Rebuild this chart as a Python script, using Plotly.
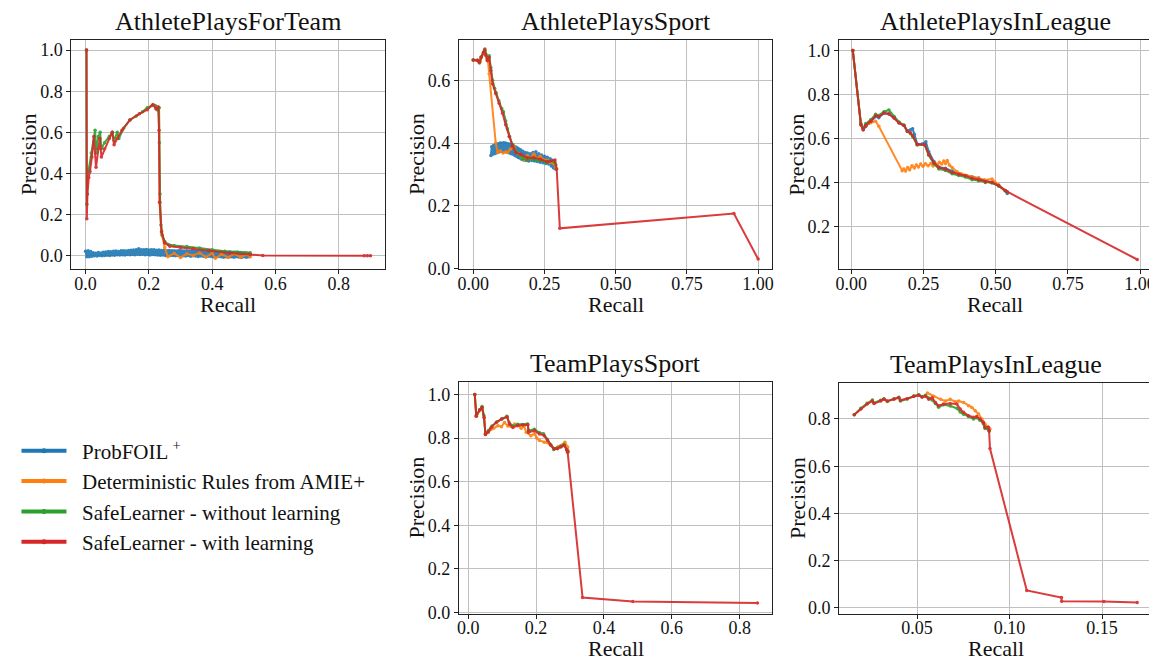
import plotly.graph_objects as go

# ---------------- data ----------------
SERIES = ["ProbFOIL\u2009<sup>+</sup>", "Deterministic Rules from AMIE+",
          "SafeLearner - without learning", "SafeLearner - with learning"]
COLORS = ["#1f77b4", "#ff7f0e", "#2ca02c", "#d62728"]
TITLES = ["AthletePlaysForTeam", "AthletePlaysSport", "AthletePlaysInLeague",
          "TeamPlaysSport", "TeamPlaysInLeague"]
X_LABEL = "Recall"
Y_LABEL = "Precision"

# AthletePlaysForTeam - ProbFOIL+ (dense noisy band near zero)
apft_blue_x = [0.000,0.004,0.008,0.012,0.016,0.020,0.024,0.028,0.032,0.036,
               0.040,0.044,0.048,0.052,0.056,0.060,0.064,0.068,0.072,0.076,
               0.080,0.084,0.088,0.092,0.096,0.100,0.104,0.108,0.112,0.116,
               0.120,0.124,0.128,0.132,0.136,0.140,0.144,0.148,0.152,0.156,
               0.160,0.164,0.168,0.172,0.176,0.180,0.184,0.188,0.192,0.196,
               0.200,0.204,0.208,0.212,0.216,0.220,0.224,0.228,0.232,0.236,
               0.240,0.244,0.248,0.252,0.256,0.260,0.264,0.268,0.272,0.276,
               0.280,0.284,0.288,0.292,0.296,0.300,0.304,0.308,0.312,0.316,
               0.320,0.324,0.328,0.332,0.336,0.340,0.344,0.348,0.352,0.356,
               0.360,0.364,0.368,0.372,0.376,0.380,0.384,0.388,0.392,0.396,
               0.400,0.404,0.408,0.412,0.416,0.420,0.424,0.428,0.432,0.436,
               0.440,0.444,0.448,0.452,0.456,0.460,0.464,0.468,0.472,0.476,
               0.480,0.484,0.488,0.492,0.496,0.500,0.504,0.508,0.512,0.516,
               0.520]
apft_blue_y = [0.022,-0.005,0.024,-0.004,0.021,
               -0.002,0.015,0.000,0.013,-0.001,0.016,0.001,0.014,0.000,0.017,
               0.002,0.019,0.003,0.021,0.002,0.020,0.004,0.022,0.003,0.023,
               0.005,0.021,0.004,0.024,0.005,0.025,0.004,0.023,0.006,0.026,
               0.005,0.027,0.006,
               0.028,0.005,0.029,0.007,0.034,0.006,0.030,0.008,0.029,0.005,
               0.031,0.006,0.028,0.004,0.030,0.006,0.029,0.005,0.027,0.004,
               0.028,0.003,0.026,0.004,0.027,
               0.002,0.025,0.003,0.026,0.001,0.024,0.002,0.025,0.000,0.023,
               0.001,0.026,0.002,0.024,0.000,0.023,-0.001,0.025,0.001,0.022,
               -0.002,0.024,0.000,0.023,-0.001,0.021,-0.003,0.022,-0.001,0.023,
               -0.002,0.020,-0.004,0.022,-0.002,0.021,-0.003,
               0.020,-0.004,0.021,-0.006,0.019,-0.003,0.020,-0.005,0.018,-0.007,
               0.019,-0.004,0.017,-0.006,0.018,-0.005,0.016,-0.007,0.017,-0.005,
               0.015,-0.006,0.016,-0.008,0.014,-0.005,0.015,-0.007,0.012,-0.004,
               0.006]
assert len(apft_blue_x) == len(apft_blue_y)
apft_blue = list(zip(apft_blue_x, apft_blue_y))

apft_orange = [(0.232,0.720),(0.234,0.260),(0.240,0.110),(0.250,0.040),(0.260,-0.004),(0.280,0.012),
               (0.300,-0.008),(0.320,0.010),(0.340,0.002),(0.360,0.014),(0.380,-0.006),(0.400,0.012),
               (0.410,-0.012),(0.430,0.008),(0.450,-0.008),(0.470,0.010),(0.490,-0.006),(0.510,0.006),
               (0.520,-0.004)]
apft_green = [(0.003,1.000),(0.004,0.250),(0.006,0.400),(0.010,0.420),(0.018,0.500),(0.030,0.610),
              (0.034,0.500),(0.040,0.580),(0.046,0.600),(0.050,0.520),(0.060,0.550),(0.075,0.580),
              (0.085,0.600),(0.090,0.560),(0.100,0.600),(0.105,0.570),(0.120,0.620),(0.140,0.660),
              (0.160,0.680),(0.180,0.700),(0.195,0.720),(0.210,0.730),(0.220,0.730),(0.226,0.710),
              (0.232,0.720),(0.233,0.550),(0.235,0.300),(0.238,0.150),(0.242,0.100),(0.250,0.070),
              (0.262,0.055),(0.280,0.050),(0.320,0.045),(0.360,0.038),(0.400,0.030),(0.440,0.022),
              (0.480,0.018),(0.520,0.015)]
apft_red = [(0.003,1.000),(0.004,0.180),(0.006,0.300),(0.010,0.380),(0.014,0.410),(0.020,0.480),
            (0.026,0.580),(0.033,0.430),(0.040,0.520),(0.045,0.570),(0.050,0.480),(0.060,0.520),
            (0.075,0.570),(0.084,0.600),(0.090,0.540),(0.100,0.570),(0.115,0.610),(0.140,0.660),
            (0.170,0.690),(0.195,0.710),(0.213,0.735),(0.222,0.715),(0.229,0.725),(0.232,0.610),
            (0.234,0.260),(0.240,0.118),(0.250,0.062),(0.266,0.046),(0.300,0.040),(0.340,0.035),
            (0.390,0.026),(0.455,0.014),(0.520,0.006),(0.560,0.002),(0.880,0.000),(0.890,0.000),
            (0.900,0.000)]

# AthletePlaysSport
aps_blue = [(0.062,0.360),(0.065,0.388),(0.068,0.364),(0.071,0.392),(0.074,0.366),(0.077,0.394),
            (0.080,0.368),(0.083,0.396),(0.086,0.370),(0.089,0.398),(0.092,0.372),(0.095,0.400),
            (0.098,0.374),(0.101,0.399),(0.104,0.373),(0.107,0.401),(0.110,0.375),(0.113,0.400),
            (0.116,0.372),(0.119,0.398),(0.122,0.370),(0.125,0.397),(0.128,0.368),(0.131,0.396),
            (0.134,0.366),(0.137,0.393),(0.140,0.364),(0.143,0.390),(0.146,0.360),(0.149,0.387),
            (0.152,0.358),(0.155,0.384),(0.158,0.354),(0.161,0.381),(0.164,0.352),(0.167,0.378),
            (0.170,0.348),(0.174,0.374),(0.178,0.346),(0.182,0.370),(0.186,0.344),(0.190,0.368),
            (0.195,0.343),(0.200,0.366),(0.205,0.344),(0.210,0.370),(0.215,0.343),(0.220,0.372),
            (0.225,0.341),(0.230,0.366),(0.235,0.339),(0.240,0.362),(0.245,0.337),(0.250,0.358),
            (0.255,0.335),(0.260,0.355),(0.265,0.333),(0.270,0.350),(0.274,0.327),(0.278,0.345),
            (0.282,0.320),(0.286,0.338),(0.290,0.316)]
aps_orange = [(0.000,0.665),(0.015,0.663),(0.025,0.660),(0.035,0.685),(0.042,0.695),(0.048,0.665),
              (0.052,0.660),(0.056,0.621),(0.079,0.400),(0.086,0.370),(0.095,0.375),(0.105,0.368),
              (0.115,0.372),(0.120,0.370),(0.130,0.380),(0.143,0.390),(0.150,0.372),(0.160,0.365),
              (0.170,0.355),(0.178,0.346),(0.190,0.360),(0.200,0.350),(0.213,0.365),(0.225,0.348),
              (0.235,0.358),(0.248,0.346),(0.260,0.345),(0.270,0.338),(0.284,0.333),(0.290,0.320)]
aps_green = [(0.000,0.665),(0.015,0.665),(0.022,0.655),(0.028,0.675),(0.036,0.690),(0.041,0.700),
             (0.045,0.682),(0.050,0.670),(0.056,0.678),(0.062,0.640),(0.068,0.600),(0.075,0.575),
             (0.080,0.560),(0.090,0.535),(0.100,0.510),(0.106,0.500),(0.114,0.470),(0.120,0.445),
             (0.128,0.420),(0.138,0.395),(0.150,0.372),(0.165,0.360),(0.175,0.350),(0.190,0.346),
             (0.205,0.350),(0.220,0.346),(0.237,0.345),(0.255,0.338),(0.270,0.342),(0.284,0.340),
             (0.290,0.330)]
aps_red = [(0.000,0.665),(0.015,0.663),(0.021,0.658),(0.027,0.673),(0.036,0.689),(0.040,0.697),
           (0.044,0.679),(0.050,0.663),(0.056,0.673),(0.062,0.631),(0.068,0.589),(0.079,0.558),
           (0.091,0.527),(0.103,0.495),(0.114,0.458),(0.126,0.421),(0.138,0.390),(0.150,0.369),
           (0.167,0.364),(0.190,0.353),(0.213,0.353),(0.237,0.348),(0.260,0.340),(0.287,0.346),
           (0.293,0.317),(0.304,0.128),(0.915,0.175),(1.000,0.030)]

# AthletePlaysInLeague
apil_blue = [(0.005,1.000),(0.033,0.663),(0.041,0.640),(0.050,0.655),(0.060,0.670),(0.070,0.680),
             (0.084,0.700),(0.095,0.695),(0.113,0.715),(0.130,0.712),(0.148,0.695),(0.165,0.672),
             (0.182,0.660),(0.194,0.635),(0.205,0.640),(0.212,0.645),(0.218,0.620),(0.228,0.575),
             (0.245,0.575),(0.258,0.585),(0.268,0.540),(0.286,0.495),(0.303,0.470),(0.326,0.465),
             (0.349,0.452),(0.372,0.440),(0.395,0.432),(0.418,0.425),(0.441,0.420),(0.464,0.405),
             (0.487,0.400),(0.510,0.385),(0.533,0.362),(0.540,0.350)]
apil_orange = [(0.005,1.000),(0.033,0.663),(0.041,0.645),(0.050,0.660),(0.067,0.672),(0.084,0.678),
               (0.095,0.656),(0.176,0.454),(0.182,0.462),(0.188,0.452),(0.195,0.468),(0.202,0.458),
               (0.210,0.476),(0.218,0.466),(0.225,0.480),(0.232,0.470),(0.240,0.484),(0.248,0.474),
               (0.257,0.485),(0.266,0.476),(0.275,0.486),(0.283,0.475),(0.290,0.488),(0.298,0.480),
               (0.305,0.492),(0.313,0.484),(0.320,0.498),(0.326,0.486),(0.332,0.500),(0.340,0.478),
               (0.349,0.468),(0.365,0.450),(0.380,0.440),(0.400,0.432),(0.420,0.425),(0.440,0.420),
               (0.460,0.412),(0.487,0.416),(0.510,0.390),(0.533,0.364)]
apil_green = [(0.005,1.000),(0.033,0.668),(0.041,0.648),(0.050,0.668),(0.067,0.685),(0.084,0.710),
              (0.095,0.705),(0.113,0.722),(0.130,0.730),(0.148,0.700),(0.165,0.675),(0.182,0.660),
              (0.194,0.632),(0.205,0.622),(0.213,0.608),(0.228,0.570),(0.254,0.570),(0.268,0.524),
              (0.286,0.485),(0.303,0.462),(0.326,0.455),(0.349,0.440),(0.372,0.432),(0.395,0.425),
              (0.418,0.413),(0.441,0.408),(0.464,0.400),(0.487,0.398),(0.510,0.384),(0.533,0.362),
              (0.540,0.356)]
apil_red = [(0.005,1.000),(0.033,0.663),(0.041,0.640),(0.050,0.660),(0.067,0.678),(0.084,0.704),
            (0.095,0.700),(0.113,0.716),(0.130,0.713),(0.148,0.693),(0.165,0.671),(0.182,0.659),
            (0.194,0.633),(0.205,0.626),(0.213,0.611),(0.228,0.573),(0.254,0.573),(0.268,0.528),
            (0.286,0.490),(0.303,0.468),(0.326,0.461),(0.349,0.446),(0.372,0.438),(0.395,0.431),
            (0.418,0.419),(0.441,0.413),(0.464,0.404),(0.487,0.401),(0.510,0.386),(0.533,0.364),
            (0.540,0.358),(0.990,0.050)]

# TeamPlaysSport
tps_orange = [(0.0195,1.000),(0.024,0.900),(0.034,0.929),(0.041,0.940),(0.047,0.895),(0.051,0.816),
              (0.060,0.830),(0.075,0.845),(0.088,0.857),(0.098,0.852),(0.107,0.872),(0.117,0.855),
              (0.127,0.853),(0.137,0.865),(0.146,0.864),(0.156,0.845),(0.165,0.855),(0.171,0.827),
              (0.185,0.811),(0.195,0.820),(0.202,0.800),(0.210,0.789),(0.224,0.781),(0.239,0.774),
              (0.254,0.751),(0.265,0.760),(0.273,0.766),(0.285,0.781),(0.293,0.759),(0.295,0.740)]
tps_green = [(0.0195,1.000),(0.024,0.905),(0.034,0.930),(0.041,0.945),(0.046,0.905),(0.051,0.820),
             (0.060,0.835),(0.070,0.855),(0.085,0.875),(0.100,0.890),(0.114,0.900),(0.121,0.870),
             (0.132,0.855),(0.146,0.862),(0.160,0.862),(0.175,0.865),(0.178,0.835),(0.195,0.840),
             (0.210,0.825),(0.222,0.820),(0.233,0.795),(0.243,0.770),(0.252,0.748),(0.262,0.755),
             (0.274,0.762),(0.282,0.770),(0.290,0.748),(0.293,0.735)]
tps_red = [(0.0195,1.000),(0.024,0.900),(0.034,0.929),(0.041,0.940),(0.047,0.895),(0.051,0.816),
           (0.059,0.827),(0.068,0.849),(0.083,0.872),(0.098,0.887),(0.115,0.897),(0.122,0.864),
           (0.132,0.849),(0.146,0.857),(0.161,0.860),(0.176,0.861),(0.178,0.827),(0.195,0.834),
           (0.210,0.819),(0.224,0.811),(0.234,0.789),(0.244,0.766),(0.254,0.751),(0.263,0.751),
           (0.273,0.759),(0.283,0.766),(0.291,0.744),(0.293,0.736),(0.337,0.068),(0.485,0.050),
           (0.852,0.043)]

# TeamPlaysInLeague
tpil_orange = [(0.0556,0.910),(0.0590,0.896),(0.0627,0.883),(0.0653,0.876),(0.0679,0.883),
               (0.0707,0.873),(0.0725,0.876),(0.0751,0.870),(0.0778,0.856),(0.0796,0.849),
               (0.0814,0.835),(0.0832,0.821),(0.0850,0.800),(0.0867,0.779),(0.0885,0.765),
               (0.0894,0.758)]
tpil_green = [(0.0160,0.818),(0.0196,0.845),(0.0230,0.866),(0.0258,0.880),(0.0267,0.868),
              (0.0303,0.879),(0.0321,0.886),(0.0339,0.874),(0.0375,0.886),(0.0401,0.892),
              (0.0410,0.876),(0.0446,0.884),(0.0482,0.897),(0.0509,0.903),(0.0527,0.895),
              (0.0545,0.900),(0.0563,0.889),(0.0581,0.880),(0.0599,0.865),(0.0616,0.850),
              (0.0643,0.860),(0.0680,0.855),(0.0715,0.845),(0.0733,0.830),(0.0751,0.820),
              (0.0778,0.810),(0.0805,0.800),(0.0822,0.805),(0.0840,0.795),(0.0858,0.780),
              (0.0867,0.760),(0.0885,0.755),(0.0890,0.748)]
tpil_red = [(0.0160,0.818),(0.0196,0.842),(0.0230,0.863),(0.0258,0.876),(0.0267,0.865),
            (0.0303,0.876),(0.0321,0.883),(0.0339,0.876),(0.0375,0.883),(0.0401,0.890),
            (0.0410,0.879),(0.0446,0.886),(0.0482,0.896),(0.0509,0.900),(0.0527,0.892),
            (0.0545,0.896),(0.0563,0.883),(0.0581,0.890),(0.0599,0.870),(0.0616,0.856),
            (0.0643,0.863),(0.0679,0.865),(0.0715,0.863),(0.0733,0.842),(0.0751,0.828),
            (0.0778,0.814),(0.0805,0.807),(0.0822,0.810),(0.0840,0.800),(0.0858,0.786),
            (0.0867,0.765),(0.0885,0.765),(0.0889,0.751),(0.0894,0.675),(0.1093,0.074),
            (0.1280,0.044),(0.1282,0.028),(0.1510,0.027),(0.1690,0.023)]

PANELS = [
    [apft_blue, apft_orange, apft_green, apft_red],
    [aps_blue, aps_orange, aps_green, aps_red],
    [apil_blue, apil_orange, apil_green, apil_red],
    [None, tps_orange, tps_green, tps_red],
    [None, tpil_orange, tpil_green, tpil_red],
]

X_TICKS = [[0.0, 0.2, 0.4, 0.6, 0.8], [0.0, 0.25, 0.5, 0.75, 1.0], [0.0, 0.25, 0.5, 0.75, 1.0],
           [0.0, 0.2, 0.4, 0.6, 0.8], [0.05, 0.10, 0.15]]
X_TICKTEXT = [["0.0", "0.2", "0.4", "0.6", "0.8"], ["0.00", "0.25", "0.50", "0.75", "1.00"],
              ["0.00", "0.25", "0.50", "0.75", "1.00"], ["0.0", "0.2", "0.4", "0.6", "0.8"],
              ["0.05", "0.10", "0.15"]]
Y_TICKS = [[0.0, 0.2, 0.4, 0.6, 0.8, 1.0], [0.0, 0.2, 0.4, 0.6], [0.2, 0.4, 0.6, 0.8, 1.0],
           [0.0, 0.2, 0.4, 0.6, 0.8, 1.0], [0.0, 0.2, 0.4, 0.6, 0.8]]

# ---------------- layout geometry ----------------
W, H = 1157, 660
X_RANGES = [[-0.045, 0.945], [-0.05, 1.05], [-0.044, 1.039], [-0.027, 0.896], [0.0079, 0.1772]]
Y_RANGES = [[-0.066, 1.051], [-0.003, 0.73], [0.005, 1.05], [-0.006, 1.056], [-0.024, 0.953]]
X_DOM = [[60.7, 376], [450.7, 766], [832.7, 1147.3], [450.7, 766], [833.3, 1148.3]]
Y_DOM = [[32, 265], [32, 265], [32, 265], [379.5, 614], [380, 614]]

FONT = "Liberation Serif"

fig = go.Figure()
for p, series in enumerate(PANELS):
    xa = "x" if p == 0 else f"x{p+1}"
    ya = "y" if p == 0 else f"y{p+1}"
    for s, pts in enumerate(series):
        if pts is None:
            continue
        fig.add_trace(go.Scatter(
            x=[q[0] for q in pts], y=[q[1] for q in pts],
            mode="lines+markers", xaxis=xa, yaxis=ya,
            line=dict(color=COLORS[s], width=2), marker=dict(color=COLORS[s], size=3.5),
            opacity=0.9, showlegend=False, hoverinfo="skip"))

for s, name in enumerate(SERIES):
    fig.add_trace(go.Scatter(x=[None], y=[None], mode="lines+markers",
                             name="\u00a0\u00a0" + name,
                             line=dict(color=COLORS[s], width=4),
                             marker=dict(color=COLORS[s], size=5), showlegend=True))

axis_common = dict(showline=True, mirror=True, linecolor="#222", linewidth=1.2,
                   ticks="outside", ticklen=4, tickcolor="#222", tickwidth=1,
                   showgrid=True, gridcolor="#c0c0c0", gridwidth=1, zeroline=False,
                   tickfont=dict(family=FONT, size=18, color="#111"))

layout = dict(width=W, height=H, margin=dict(l=0, r=0, t=0, b=0),
              paper_bgcolor="white", plot_bgcolor="white",
              font=dict(family=FONT, color="#111"),
              legend=dict(x=5.5 / W, y=1 - 428.5 / H, xanchor="left", yanchor="top",
                          font=dict(family=FONT, size=21, color="#111"),
                          bgcolor="rgba(0,0,0,0)", itemwidth=45, tracegroupgap=0),
              annotations=[])
for p in range(5):
    xn = "xaxis" if p == 0 else f"xaxis{p+1}"
    yn = "yaxis" if p == 0 else f"yaxis{p+1}"
    xref = "x" if p == 0 else f"x{p+1}"
    yref = "y" if p == 0 else f"y{p+1}"
    layout[xn] = dict(axis_common, domain=[X_DOM[p][0] / W, X_DOM[p][1] / W], range=X_RANGES[p],
                      anchor=yref, tickvals=X_TICKS[p], ticktext=X_TICKTEXT[p],
                      ticklabelstandoff=-6)
    layout[yn] = dict(axis_common, domain=[1 - Y_DOM[p][1] / H, 1 - Y_DOM[p][0] / H],
                      range=Y_RANGES[p], anchor=xref, tickvals=Y_TICKS[p], tickformat=".1f")
    cx = (X_DOM[p][0] + X_DOM[p][1]) / 2
    cy = (Y_DOM[p][0] + Y_DOM[p][1]) / 2
    layout["annotations"] += [
        dict(text=TITLES[p], x=cx / W, y=1 - Y_DOM[p][0] / H, yshift=2,
             xref="paper", yref="paper", xanchor="center", yanchor="bottom", showarrow=False,
             font=dict(family=FONT, size=26, color="#111")),
        dict(text=X_LABEL, x=cx / W, y=1 - (Y_DOM[p][1] + 21) / H,
             xref="paper", yref="paper", xanchor="center", yanchor="top", showarrow=False,
             font=dict(family=FONT, size=22, color="#111")),
        dict(text=Y_LABEL, x=(X_DOM[p][0] - 42.7) / W, y=1 - cy / H, textangle=-90,
             xref="paper", yref="paper", xanchor="center", yanchor="middle", showarrow=False,
             font=dict(family=FONT, size=22, color="#111")),
    ]

fig.update_layout(**layout)
fig.write_html("out.html")
